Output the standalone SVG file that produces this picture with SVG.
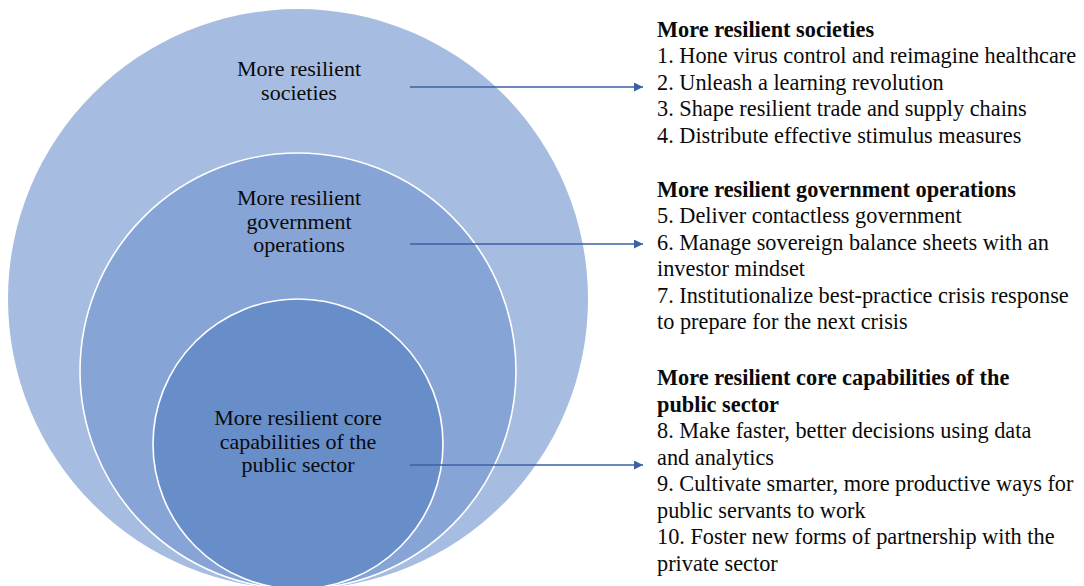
<svg xmlns="http://www.w3.org/2000/svg" width="1084" height="586" viewBox="0 0 1084 586">
  <style>
    .ring { stroke: #ffffff; stroke-width: 1.6; }
    text { font-family: 'Liberation Serif', 'Times New Roman', Times, serif; font-size: 22.3px; fill: #0a0a0a; }
    .mid { text-anchor: middle; font-size: 22px; }
    .head { font-weight: bold; }
    .conn { stroke: #3B60A5; stroke-width: 1.4; fill: none; }
  </style>
  <defs>
    <marker id="arrow" viewBox="0 0 10 10" refX="10" refY="5" markerWidth="11" markerHeight="9" markerUnits="userSpaceOnUse" orient="auto">
      <path d="M0,0 L10,5 L0,10 z" fill="#3B60A5"/>
    </marker>
  </defs>

  <rect x="0" y="0" width="1084" height="586" fill="#ffffff"/>

  <!-- nested circles -->
  <g id="societies">
    <circle cx="298" cy="299" r="290" fill="#A6BDE1"/>
    <text class="mid" x="299" y="76">More resilient</text>
    <text class="mid" x="299" y="99.5">societies</text>
  </g>
  <g id="government">
    <circle class="ring" cx="298" cy="371" r="218" fill="#86A4D6"/>
    <text class="mid" x="299" y="205">More resilient</text>
    <text class="mid" x="299" y="228.5">government</text>
    <text class="mid" x="299" y="252">operations</text>
  </g>
  <g id="core">
    <circle class="ring" cx="298" cy="444" r="145" fill="#688ECA"/>
    <text class="mid" x="298" y="425">More resilient core</text>
    <text class="mid" x="298" y="448.5">capabilities of the</text>
    <text class="mid" x="298" y="472">public sector</text>
  </g>

  <!-- connectors -->
  <g id="connectors">
    <line class="conn" x1="410" y1="87" x2="643" y2="87" marker-end="url(#arrow)"/>
    <line class="conn" x1="410" y1="244" x2="643" y2="244" marker-end="url(#arrow)"/>
    <line class="conn" x1="410" y1="465" x2="643" y2="465" marker-end="url(#arrow)"/>
  </g>

  <!-- descriptions -->
  <g id="list-societies">
    <text class="head" x="657" y="36.5">More resilient societies</text>
    <text x="657" y="63">1. Hone virus control and reimagine healthcare</text>
    <text x="657" y="89.5">2. Unleash a learning revolution</text>
    <text x="657" y="116">3. Shape resilient trade and supply chains</text>
    <text x="657" y="142.5">4. Distribute effective stimulus measures</text>
  </g>
  <g id="list-government">
    <text class="head" x="657" y="196.5">More resilient government operations</text>
    <text x="657" y="223">5. Deliver contactless government</text>
    <text x="657" y="249.5">6. Manage sovereign balance sheets with an</text>
    <text x="657" y="276">investor mindset</text>
    <text x="657" y="302.5">7. Institutionalize best-practice crisis response</text>
    <text x="657" y="329">to prepare for the next crisis</text>
  </g>
  <g id="list-core">
    <text class="head" x="657" y="385">More resilient core capabilities of the</text>
    <text class="head" x="657" y="411.5">public sector</text>
    <text x="657" y="438">8. Make faster, better decisions using data</text>
    <text x="657" y="464.5">and analytics</text>
    <text x="657" y="491">9. Cultivate smarter, more productive ways for</text>
    <text x="657" y="517.5">public servants to work</text>
    <text x="657" y="544">10. Foster new forms of partnership with the</text>
    <text x="657" y="570.5">private sector</text>
  </g>
</svg>
